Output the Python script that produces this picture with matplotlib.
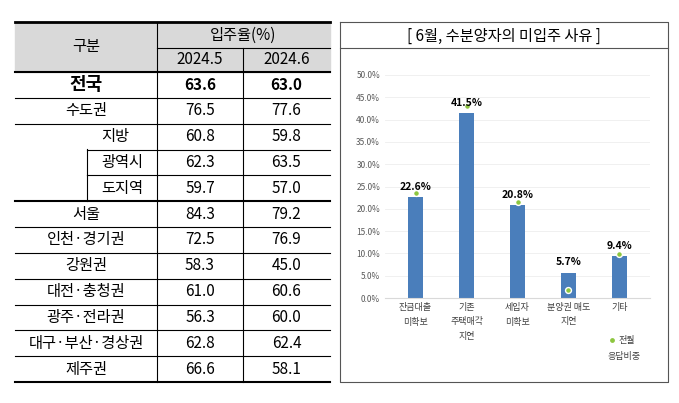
import numpy as np
import matplotlib
matplotlib.use("Agg")
from matplotlib import pyplot as plt

plt.rcParams['font.family'] = 'Noto Sans CJK KR'

# table data
regions = ['전국', '수도권', '지방', '광역시', '도지역', '서울', '인천·경기권', '강원권',
           '대전·충청권', '광주·전라권', '대구·부산·경상권', '제주권']
rate_may = [63.6, 76.5, 60.8, 62.3, 59.7, 84.3, 72.5, 58.3, 61.0, 56.3, 62.8, 66.6]
rate_jun = [63.0, 77.6, 59.8, 63.5, 57.0, 79.2, 76.9, 45.0, 60.6, 60.0, 62.4, 58.1]

# chart data
reasons = ['잔금대출\n미확보', '기존\n주택매각\n지연', '세입자\n미확보', '분양권 매도\n지연', '기타']
share_jun = [22.6, 41.5, 20.8, 5.7, 9.4]
share_prev = [23.5, 43.0, 21.6, 1.8, 9.8]

W, H = 679, 403
fig = plt.figure(figsize=(W / 100, H / 100), dpi=100)
bg = fig.add_axes([0, 0, 1, 1])
bg.set_xlim(0, W)
bg.set_ylim(H, 0)
bg.axis('off')

# ---- table ----
x0, x1, x2, x3 = 15, 157, 243, 330
top, hmid, hbot, bottom = 22, 48, 72, 382
bg.add_patch(plt.Rectangle((x0, top), x3 - x0, hbot - top, color='#d9d9d9', zorder=0))
rh = (bottom - hbot) / len(regions)
bg.text((x0 + x1) / 2, (top + hbot) / 2, '구분', ha='center', va='center', fontsize=11)
bg.text((x1 + x3) / 2, (top + hmid) / 2, '입주율(%)', ha='center', va='center', fontsize=11)
bg.text((x1 + x2) / 2, (hmid + hbot) / 2, '2024.5', ha='center', va='center', fontsize=11)
bg.text((x2 + x3) / 2, (hmid + hbot) / 2, '2024.6', ha='center', va='center', fontsize=11)
bg.plot([x0, x3], [top, top], color='k', lw=2)
bg.plot([x1, x3], [hmid, hmid], color='k', lw=0.8)
bg.plot([x0, x3], [hbot, hbot], color='k', lw=1.5)
bg.plot([x0, x3], [bottom, bottom], color='k', lw=1.5)
for x in (x1, x2):
    bg.plot([x, x], [top if x == x1 else hmid, bottom], color='k', lw=0.8)
sub_x = 87
for i, name in enumerate(regions):
    yc = hbot + rh * (i + 0.5)
    yb = hbot + rh * (i + 1)
    bold = i == 0
    if name in ('광역시', '도지역'):
        cx = (sub_x + x1) / 2
    elif name == '지방':
        cx = 115
    else:
        cx = (x0 + x1) / 2
    bg.text(cx, yc, name, ha='center', va='center', fontsize=13 if bold else 11,
            fontweight='bold' if bold else 'normal')
    bg.text((x1 + x2) / 2, yc, f'{rate_may[i]:.1f}', ha='center', va='center',
            fontsize=11, fontweight='bold' if bold else 'normal')
    bg.text((x2 + x3) / 2, yc, f'{rate_jun[i]:.1f}', ha='center', va='center',
            fontsize=11, fontweight='bold' if bold else 'normal')
    if i == len(regions) - 1:
        continue
    if name in ('지방', '광역시'):
        bg.plot([sub_x, x3], [yb, yb], color='k', lw=0.8)
    else:
        bg.plot([x0, x3], [yb, yb], color='k', lw=1.5 if name == '도지역' else 0.8)
    if name in ('광역시', '도지역'):
        bg.plot([sub_x, sub_x], [yb - rh, yb], color='k', lw=0.8)

# ---- right panel frame ----
bg.plot([340, 668, 668, 340, 340], [22, 22, 382, 382, 22], color='#555555', lw=0.8)
bg.plot([340, 668], [48, 48], color='#555555', lw=0.8)
bg.text(504, 36, '[ 6월, 수분양자의 미입주 사유 ]', ha='center', va='center', fontsize=11)

# ---- bar chart ----
ax = fig.add_axes([385 / W, 1 - 298 / H, (650 - 385) / W, (298 - 75) / H])
x = np.arange(len(reasons))
ax.bar(x, share_jun, width=0.3, color='#4a7ebb', zorder=2)
ax.scatter(x, share_prev, s=18, color='#8dc63f', edgecolor='white', linewidth=1, zorder=3)
for xi, v in zip(x, share_jun):
    ax.text(xi, v + 1.2, f'{v:.1f}%', ha='center', va='bottom', fontsize=7.5, fontweight='bold')
ax.set_ylim(0, 50)
ax.set_yticks(np.arange(0, 50.1, 5))
ax.set_yticklabels([f'{t:.1f}%' for t in np.arange(0, 50.1, 5)], fontsize=6, color='#595959')
ax.set_xticks(x)
ax.set_xticklabels(reasons, fontsize=6.5, color='#404040', linespacing=1.8)
ax.set_xlim(-0.6, 4.6)
ax.grid(axis='y', color='#eeeeee', lw=0.6, zorder=0)
for s in ('top', 'right', 'left'):
    ax.spines[s].set_visible(False)
ax.spines['bottom'].set_color('#d9d9d9')
ax.tick_params(length=0)
bg.scatter([612], [340], s=6, color='#8dc63f')
bg.text(618, 340, '전월', fontsize=6.5, va='center', color='#404040')
bg.text(607, 356, '응답비중', fontsize=6.5, va='center', color='#404040')

fig.savefig('out.png', dpi=100)
